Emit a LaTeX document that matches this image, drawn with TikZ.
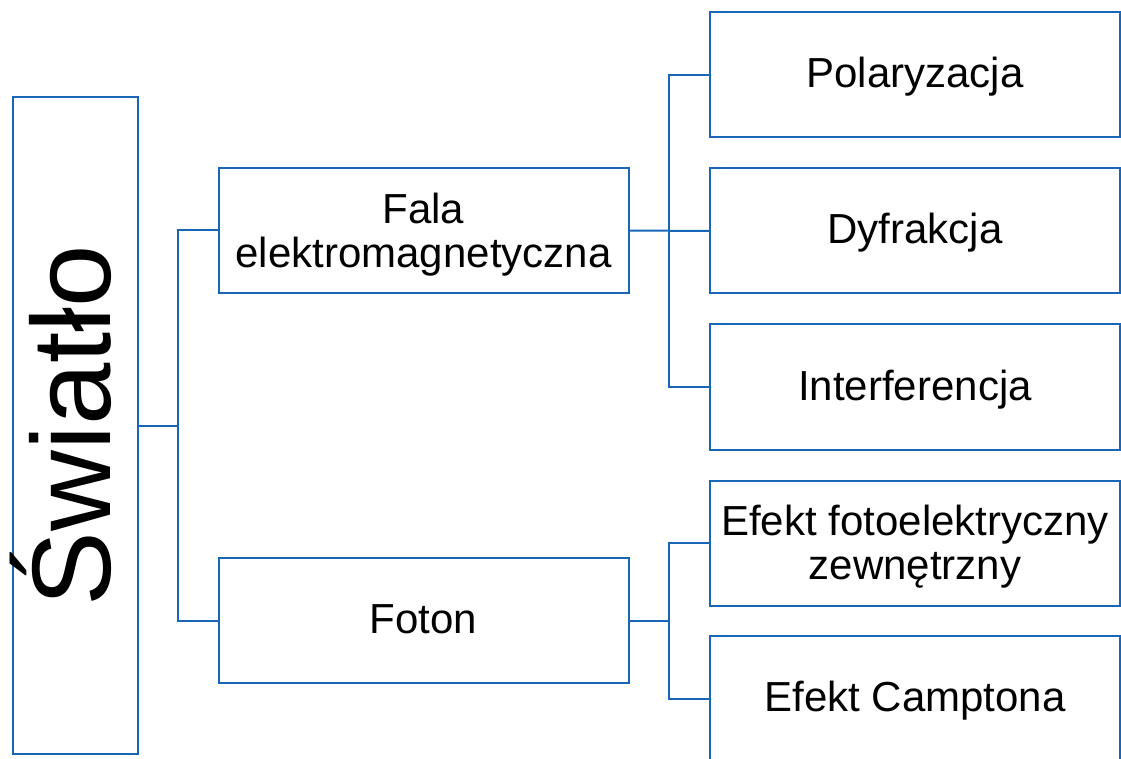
\documentclass[tikz,border=0pt]{standalone}
\usepackage{fontspec}
\setmainfont{Liberation Sans}
\usetikzlibrary{calc}
\definecolor{linkblue}{RGB}{23,102,184}
\newcommand{\topstrut}{\rule{0pt}{29pt}}
\tikzset{
	box/.style={draw=linkblue, line width=1.5pt, minimum width=307.5pt, minimum height=93.75pt, inner sep=0pt, align=center, font=\fontsize{31.5}{33}\selectfont},
	single/.style={text height=25pt, text depth=5.5pt},
	link/.style={draw=linkblue, line width=1.5pt},
}

\begin{document}
\begin{tikzpicture}[x=0.75pt, y=-0.75pt]
		%%%%% START %%%%%
		\useasboundingbox (0, 0) rectangle (1121, 759);
		
		% rotated box: its .south side faces right
		\node[box, rotate=90, minimum width=492.75pt, minimum height=93.75pt, font=\fontsize{84}{84}\selectfont, text height=52pt, text depth=0pt] (swiatlo) at (75.5, 425.5) {Światło};
		
		\node[box] (fala) at (423.5, 230.5) {\topstrut Fala\\elektromagnetyczna};
		\node[box, single] (foton) at (423.5, 620.5) {Foton};
		
		\node[box, single] (pol) at (915, 75) {Polaryzacja};
		\node[box, single] (dyf) at (915, 231) {Dyfrakcja};
		\node[box, single] (int) at (915, 387) {Interferencja};
		\node[box] (efe) at (915, 543) {\topstrut Efekt fotoelektryczny\\zewnętrzny};
		\node[box, single] (camp) at (915, 698.5) {Efekt Camptona};
		
		\coordinate (j1) at ($(swiatlo.south)!0.5!(fala.west)$);
		\draw[link] (swiatlo.south) -- (j1 |- swiatlo.south) |- (fala.west);
		\draw[link] (j1 |- swiatlo.south) |- (foton.west);
		
		\coordinate (j2) at ($(fala.east)!0.5!(dyf.west)$);
		\draw[link] (fala.east) -- (dyf.west);
		\draw[link] (j2) |- (pol.west);
		\draw[link] (j2) |- (int.west);
		
		\coordinate (j3) at ($(foton.east)!0.5!(efe.west)$);
		\draw[link] (foton.east) -- (j3 |- foton.east);
		\draw[link] (j3 |- foton.east) |- (efe.west);
		\draw[link] (j3 |- foton.east) |- (camp.west);
		
		%%%%% END %%%%%
	\end{tikzpicture}
\end{document}
